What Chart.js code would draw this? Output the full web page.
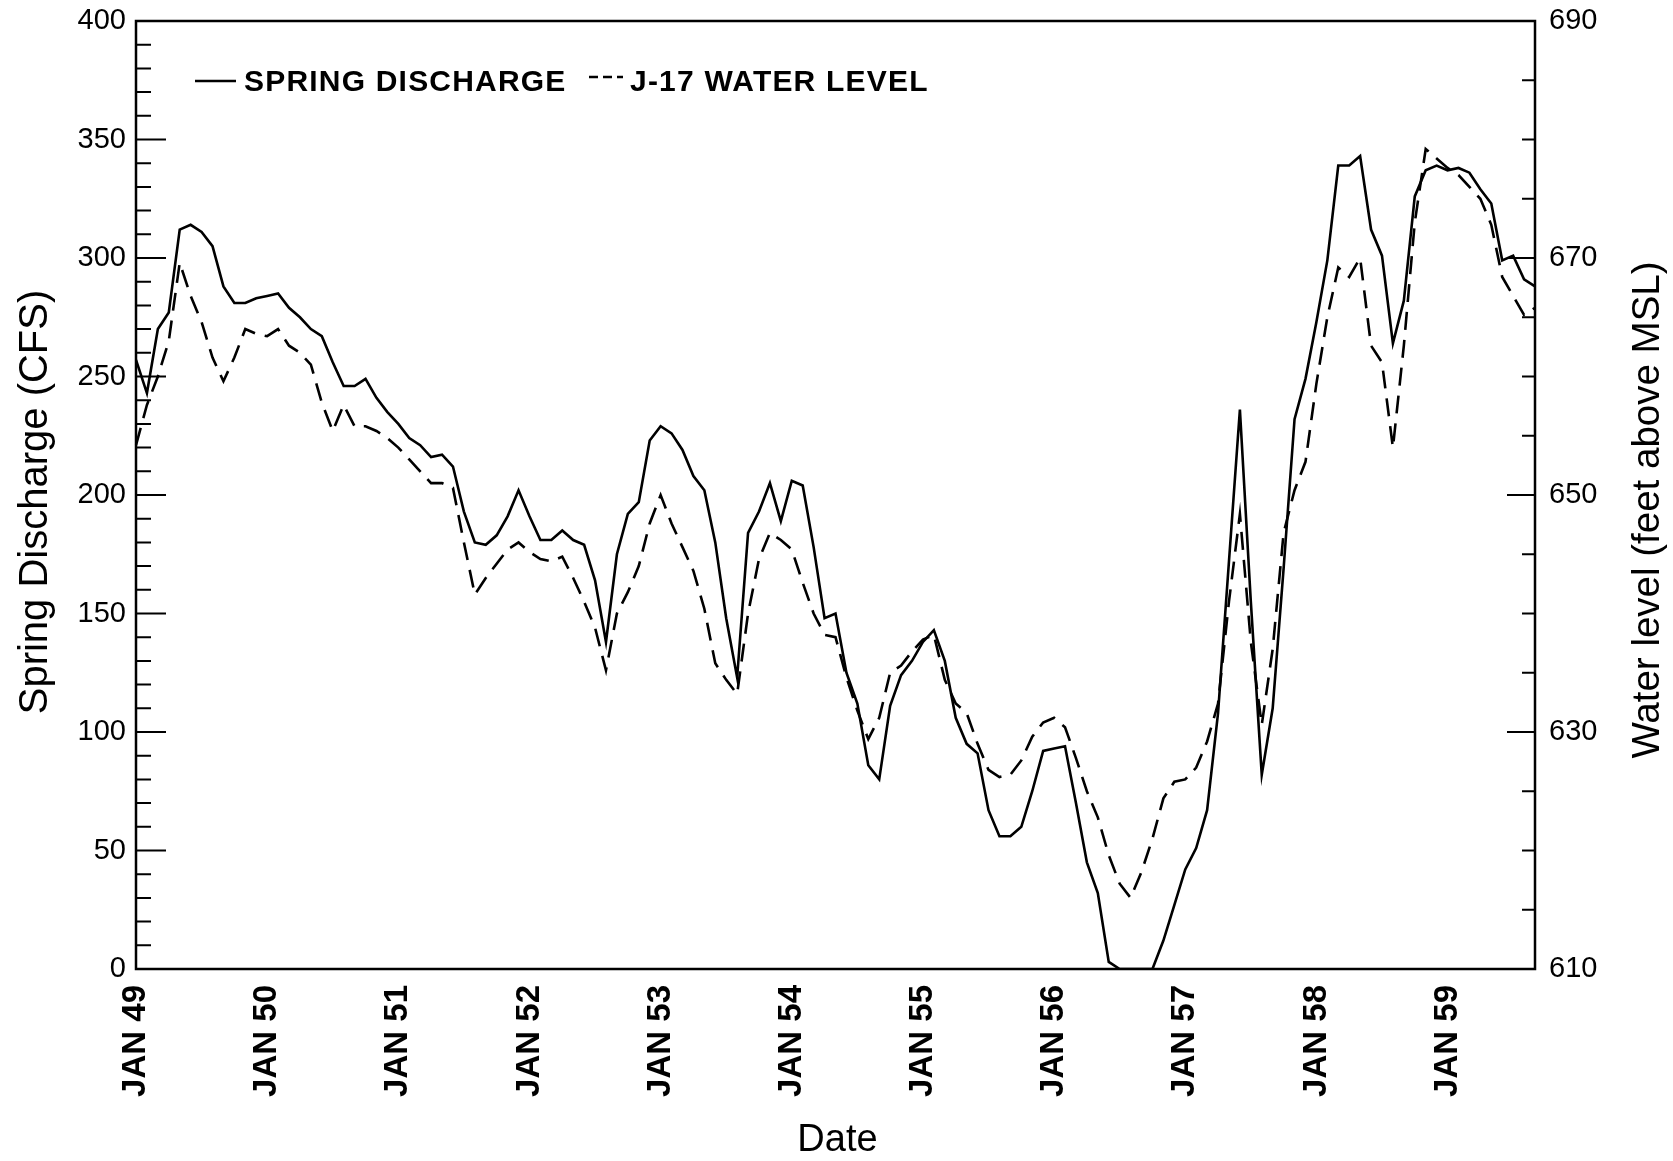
<!DOCTYPE html>
<html>
<head>
<meta charset="utf-8">
<title>Spring discharge and J-17 water level</title>
<script src="https://cdn.jsdelivr.net/npm/chart.js@4.4.0/dist/chart.umd.min.js"></script>
<style>
    html, body { margin: 0; padding: 0; background: #fff; }
    #wrap { width: 1673px; height: 1161px; }
</style>
</head>
<body>
<div id="wrap"><canvas id="chart" width="1673" height="1161"></canvas></div>
<script>
// monthly values, JAN 49 .. SEP 59
const monthNames = ["JAN", "FEB", "MAR", "APR", "MAY", "JUN", "JUL", "AUG", "SEP", "OCT", "NOV", "DEC"];
const firstYear = 49;

// spring discharge, CFS (left axis)
const discharge = [
    257, 243, 270, 277, 312, 314, 311, 305, 288, 281, 281, 283,
    284, 285, 279, 275, 270, 267, 256, 246, 246, 249, 241, 235,
    230, 224, 221, 216, 217, 212, 193, 180, 179, 183, 191, 202,
    191, 181, 181, 185, 181, 179, 164, 138, 175, 192, 197, 223,
    229, 226, 219, 208, 202, 180, 148, 123, 184, 193, 205, 189,
    206, 204, 178, 148, 150, 125, 112, 86, 80, 111, 124, 130,
    138, 143, 130, 106, 95, 91, 67, 56, 56, 60, 75, 92,
    93, 94, 70, 45, 32, 3, 0, 0, 0, 0, 12, 27,
    42, 51, 67, 108, 172, 236, 155, 82, 110, 169, 232, 249,
    273, 299, 339, 339, 343, 312, 301, 264, 282, 326, 337, 339,
    337, 338, 336, 329, 323, 299, 301, 291, 288
];

// J-17 water level, feet above MSL (right axis)
const waterLevel = [
    654.2, 657.6, 660.0, 663.0, 669.6, 666.8, 664.6, 661.6, 659.6, 661.6, 664.0, 663.6,
    663.4, 664.0, 662.6, 662.0, 661.0, 657.8, 655.4, 657.6, 655.8, 655.8, 655.4, 654.8,
    654.0, 653.0, 652.0, 651.0, 651.0, 650.6, 646.0, 641.6, 643.0, 644.2, 645.4, 646.0,
    645.2, 644.6, 644.4, 644.8, 643.0, 641.0, 638.8, 635.2, 640.0, 641.8, 644.0, 647.6,
    650.0, 647.6, 645.6, 643.6, 640.4, 635.8, 634.4, 633.2, 640.0, 644.6, 646.8, 646.2,
    645.4, 642.6, 640.0, 638.2, 638.0, 634.6, 631.8, 629.4, 631.2, 635.0, 635.6, 636.8,
    637.8, 638.2, 634.4, 632.4, 631.6, 629.0, 626.8, 626.2, 626.4, 627.6, 629.6, 630.8,
    631.2, 630.4, 627.8, 625.0, 622.8, 619.6, 617.2, 616.0, 618.2, 621.0, 624.4, 625.8,
    626.0, 627.0, 629.2, 632.4, 641.0, 648.4, 637.6, 630.6, 637.0, 646.8, 650.4, 652.8,
    659.4, 665.0, 669.2, 668.4, 670.0, 662.6, 661.2, 654.0, 662.6, 673.0, 679.2, 678.4,
    677.6, 677.0, 676.0, 675.0, 672.8, 668.4, 666.8, 665.2, 665.8
];

const months = discharge.map((_, i) => monthNames[i % 12] + " " + (firstYear + Math.floor(i / 12)));

const FONT = "'Liberation Sans', Arial, Helvetica, sans-serif";

// box, inward ticks, axis titles and legend
const frame = {
    id: "frame",
    afterDatasetsDraw(chart) {
        const { ctx, chartArea: a, scales } = chart;
        ctx.save();
        ctx.strokeStyle = "#000";
        ctx.lineWidth = 2.5;
        ctx.strokeRect(a.left, a.top, a.right - a.left, a.bottom - a.top);

        ctx.lineWidth = 2;
        ctx.beginPath();
        for (let v = 10; v < 400; v += 10) {
            const y = scales.y.getPixelForValue(v);
            const len = v % 50 === 0 ? 30 : 15;
            ctx.moveTo(a.left, y);
            ctx.lineTo(a.left + len, y);
        }
        for (let v = 615; v < 690; v += 5) {
            const y = scales.y2.getPixelForValue(v);
            const len = v % 20 === 10 ? 28 : 13;
            ctx.moveTo(a.right, y);
            ctx.lineTo(a.right - len, y);
        }
        ctx.stroke();
        ctx.restore();
    },
    afterDraw(chart) {
        const { ctx, chartArea: a } = chart;
        ctx.save();
        ctx.fillStyle = "#000";
        ctx.textAlign = "center";
        ctx.textBaseline = "middle";

        ctx.font = "40px " + FONT;
        ctx.save();
        ctx.translate(36, 502);
        ctx.rotate(-Math.PI / 2);
        ctx.fillText("Spring Discharge (CFS)", 0, 0);
        ctx.restore();

        ctx.font = "38.5px " + FONT;
        ctx.save();
        ctx.translate(1648, 510);
        ctx.rotate(-Math.PI / 2);
        ctx.fillText("Water level (feet above MSL)", 0, 0);
        ctx.restore();

        ctx.font = "38px " + FONT;
        ctx.fillText("Date", (a.left + a.right) / 2 + 2, 1141);

        // legend
        ctx.strokeStyle = "#000";
        ctx.lineWidth = 2.5;
        ctx.beginPath();
        ctx.moveTo(195, 81);
        ctx.lineTo(236, 81);
        ctx.stroke();
        ctx.setLineDash([9, 5]);
        ctx.beginPath();
        ctx.moveTo(589, 77);
        ctx.lineTo(623, 77);
        ctx.stroke();
        ctx.setLineDash([]);

        ctx.font = "bold 30px " + FONT;
        ctx.textAlign = "left";
        if ("letterSpacing" in ctx) ctx.letterSpacing = "1.2px";
        ctx.fillText("SPRING DISCHARGE", 244, 83);
        ctx.fillText("J-17 WATER LEVEL", 630, 83);
        ctx.restore();
    }
};

// pin the plot area; drop the label overhang Chart.js adds above the top tick
function fixY(width) {
    return (scale) => {
        scale.width = width;
        scale.paddingTop = 0;
        scale.paddingBottom = 0;
    };
}

new Chart(document.getElementById("chart").getContext("2d"), {
    type: "line",
    data: {
        labels: months,
        datasets: [
            {
                label: "SPRING DISCHARGE",
                data: discharge,
                yAxisID: "y",
                borderColor: "#000",
                borderWidth: 2.6,
                pointRadius: 0,
                tension: 0,
                fill: false
            },
            {
                label: "J-17 WATER LEVEL",
                data: waterLevel,
                yAxisID: "y2",
                borderColor: "#000",
                borderWidth: 2.6,
                borderDash: [18, 10],
                pointRadius: 0,
                tension: 0,
                fill: false
            }
        ]
    },
    options: {
        responsive: false,
        animation: false,
        devicePixelRatio: 1,
        layout: { padding: { top: 21, left: 0, right: 0, bottom: 0 } },
        plugins: {
            legend: { display: false },
            tooltip: { enabled: false }
        },
        scales: {
            x: {
                type: "category",
                offset: false,
                grid: { display: false, drawTicks: false },
                border: { display: false },
                ticks: {
                    autoSkip: false,
                    minRotation: 90,
                    maxRotation: 90,
                    padding: 16,
                    color: "#000",
                    font: { family: FONT, size: 33, weight: "bold" },
                    callback: function (value) {
                        const label = this.getLabelForValue(value);
                        return label.startsWith("JAN") ? label : "";
                    }
                },
                afterFit: (scale) => { scale.height = 192; }
            },
            y: {
                position: "left",
                min: 0,
                max: 400,
                grid: { display: false, drawTicks: false },
                border: { display: false },
                ticks: {
                    stepSize: 50,
                    padding: 10,
                    color: "#000",
                    font: { family: FONT, size: 29 }
                },
                afterFit: fixY(136)
            },
            y2: {
                position: "right",
                min: 610,
                max: 690,
                grid: { display: false, drawTicks: false },
                border: { display: false },
                ticks: {
                    stepSize: 20,
                    padding: 14,
                    color: "#000",
                    font: { family: FONT, size: 29 }
                },
                afterFit: fixY(138)
            }
        }
    },
    plugins: [frame]
});
</script>
</body>
</html>
